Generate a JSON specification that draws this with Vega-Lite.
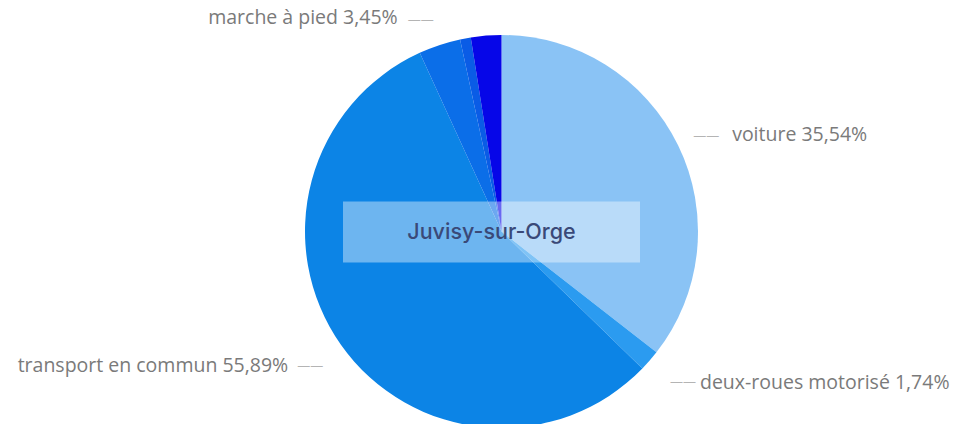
{
  "$schema": "https://vega.github.io/schema/vega-lite/v6.json",
  "width": 911,
  "height": 385,
  "autosize": {"type": "none"},
  "padding": {"left": 46, "top": 39, "right": 0, "bottom": 0},
  "background": "white",
  "config": {"view": {"stroke": null}},
  "data": {
    "values": [
      {"ordre": 1, "mode": "voiture", "pct": 35.54},
      {"ordre": 2, "mode": "deux-roues motorisé", "pct": 1.74},
      {"ordre": 3, "mode": "transport en commun", "pct": 55.89},
      {"ordre": 4, "mode": "marche à pied", "pct": 3.45},
      {"ordre": 5, "mode": "vélo", "pct": 0.88},
      {"ordre": 6, "mode": "pas de transport", "pct": 2.5}
    ]
  },
  "layer": [
    {
      "mark": {"type": "arc", "outerRadius": 196.5, "stroke": null},
      "encoding": {
        "theta": {"field": "pct", "type": "quantitative", "stack": true},
        "order": {"field": "ordre", "type": "quantitative"},
        "color": {
          "field": "mode",
          "type": "nominal",
          "scale": {
            "domain": ["voiture", "deux-roues motorisé", "transport en commun", "marche à pied", "vélo", "pas de transport"],
            "range": ["#8AC3F5", "#2B9BF0", "#0C84E6", "#0B6EE8", "#0A5CE6", "#0606E8"]
          },
          "legend": null
        }
      }
    },
    {
      "transform": [
        {"calculate": "datum.ordre <= 4 ? '——' : ''", "as": "leader"}
      ],
      "mark": {
        "type": "text",
        "radius": 250,
        "align": "center",
        "baseline": "middle",
        "font": "Open Sans",
        "fontSize": 13,
        "color": "#B4B4B4",
        "dx": {"expr": "datum.ordre == 1 ? -20 : datum.ordre == 2 ? -7 : datum.ordre == 3 ? 13 : -2"},
        "dy": {"expr": "datum.ordre == 1 ? 14 : datum.ordre == 2 ? -14 : datum.ordre == 3 ? -10 : 26"}
      },
      "encoding": {
        "theta": {"field": "pct", "type": "quantitative", "stack": true},
        "order": {"field": "ordre", "type": "quantitative"},
        "text": {"field": "leader", "type": "nominal"}
      }
    },
    {
      "transform": [
        {"calculate": "datum.ordre <= 4 ? datum.mode + ' ' + replace(format(datum.pct, '.2f'), '.', ',') + '%' : ''", "as": "label"}
      ],
      "mark": {
        "type": "text",
        "radius": 250,
        "align": {"expr": "datum.ordre <= 2 ? 'left' : 'right'"},
        "baseline": "middle",
        "font": "Open Sans",
        "fontSize": 19.5,
        "color": "#7A7A7A",
        "dx": {"expr": "datum.ordre == 1 ? 6 : datum.ordre == 2 ? 10 : datum.ordre == 3 ? -9 : -25"},
        "dy": {"expr": "datum.ordre == 1 ? 13 : datum.ordre == 2 ? -13 : datum.ordre == 3 ? -10 : 24"}
      },
      "encoding": {
        "theta": {"field": "pct", "type": "quantitative", "stack": true},
        "order": {"field": "ordre", "type": "quantitative"},
        "text": {"field": "label", "type": "nominal"}
      }
    },
    {
      "data": {"values": [{"commune": "Juvisy-sur-Orge"}]},
      "mark": {
        "type": "point",
        "shape": "M-1,-0.2054L1,-0.2054L1,0.2054L-1,0.2054Z",
        "size": 88209,
        "filled": true,
        "fill": "white",
        "opacity": 0.4,
        "strokeWidth": 0,
        "xOffset": -10,
        "yOffset": 0.5
      },
      "encoding": {}
    },
    {
      "data": {"values": [{"commune": "Juvisy-sur-Orge"}]},
      "mark": {
        "type": "text",
        "font": "Inter",
        "fontWeight": 500,
        "fontSize": 21.5,
        "color": "#3A4978",
        "align": "center",
        "baseline": "middle",
        "dx": -10,
        "dy": 1
      },
      "encoding": {"text": {"field": "commune", "type": "nominal"}}
    }
  ]
}
